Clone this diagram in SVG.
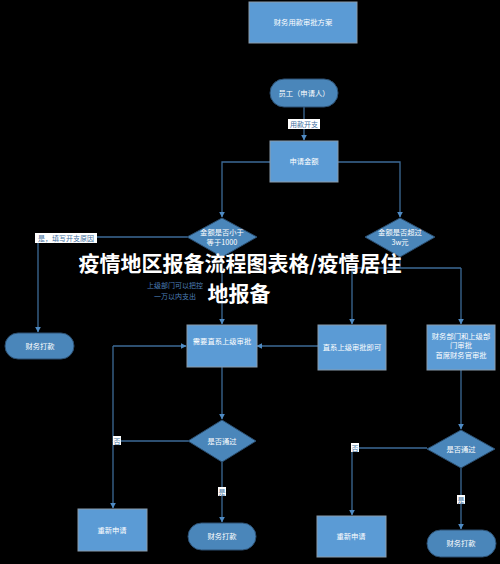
<svg xmlns="http://www.w3.org/2000/svg" width="500" height="564" viewBox="0 0 500 564">
<defs>
<marker id="arr" viewBox="0 0 10 10" refX="9" refY="5" markerWidth="6" markerHeight="6" orient="auto" markerUnits="userSpaceOnUse"><path d="M0,0 L10,5 L0,10 z" fill="#4f8bc4"/></marker>
</defs>
<style>
.box{fill:#5b9bd5;stroke:#8a9bab;stroke-width:1}
.pill{fill:#4a86ba;stroke:#2c4f70;stroke-width:1}
.dia{fill:#4a86ba;stroke:#2c4f70;stroke-width:1}
.t{font-family:"Noto Sans CJK SC","Liberation Sans",sans-serif;font-size:7.3px;fill:#ffffff;text-anchor:middle}
.ln{fill:none;stroke:#3c6a96;stroke-width:1.3}
.lb{fill:#ffffff}
.lt{font-family:"Noto Sans CJK SC","Liberation Sans",sans-serif;font-size:7px;fill:#3f6fa0;text-anchor:middle}
.bt{font-family:"Noto Sans CJK SC","Liberation Sans",sans-serif;font-size:7px;fill:#4d7fb8;text-anchor:middle}
.title{font-family:"Noto Sans CJK SC","Liberation Sans",sans-serif;font-size:21px;font-weight:bold;fill:#ffffff;text-anchor:middle}
</style>
<rect width="500" height="564" fill="#000000"/>
<g id="connectors">
<path class="ln" d="M304,107 V140" marker-end="url(#arr)"/>
<path class="ln" d="M270,162 H222 V217" marker-end="url(#arr)"/>
<path class="ln" d="M338,162 H400 V217" marker-end="url(#arr)"/>
<path class="ln" d="M187,237 H38 V332" marker-end="url(#arr)"/>
<path class="ln" d="M222,257 V324" marker-end="url(#arr)"/>
<path class="ln" d="M400,257 V268"/>
<path class="ln" d="M352,268 H461"/>
<path class="ln" d="M352,268 V324" marker-end="url(#arr)"/>
<path class="ln" d="M461,268 V324" marker-end="url(#arr)"/>
<path class="ln" d="M318,346 H257" marker-end="url(#arr)"/>
<path class="ln" d="M113,346 H186" marker-end="url(#arr)"/>
<path class="ln" d="M222,367 V419" marker-end="url(#arr)"/>
<path class="ln" d="M188,441 H113 V346"/>
<path class="ln" d="M113,441 V508" marker-end="url(#arr)"/>
<path class="ln" d="M222,462 V522" marker-end="url(#arr)"/>
<path class="ln" d="M461,370 V429" marker-end="url(#arr)"/>
<path class="ln" d="M427,448 H352 V515" marker-end="url(#arr)"/>
<path class="ln" d="M461,468 V529" marker-end="url(#arr)"/>
<rect class="lb" x="288" y="119" width="32" height="10"/>
<text class="lt" x="304" y="127">用款开支</text>
<rect class="lb" x="35" y="233" width="62" height="10"/>
<text class="lt" x="66" y="241">是，填写开支原因</text>
<text class="bt" x="175" y="288">上级部门可以把控</text>
<text class="bt" x="175" y="299">一万以内支出</text>
<rect class="lb" x="113" y="436" width="8" height="9"/>
<text class="lt" x="117" y="443.5">否</text>
<rect class="lb" x="218" y="487" width="8" height="9"/>
<text class="lt" x="222" y="494.5">是</text>
<rect class="lb" x="351" y="443" width="8" height="9"/>
<text class="lt" x="355" y="450.5">否</text>
<rect class="lb" x="457" y="495" width="8" height="9"/>
<text class="lt" x="461" y="502.5">是</text>
</g>
<g id="n-top"><rect class="box" x="249" y="2" width="108" height="41"/><text class="t" x="303" y="25">财务用款审批方案</text></g>
<g id="n-start"><rect class="pill" x="270" y="79" width="68" height="28" rx="14"/><text class="t" x="304" y="95.5">员工（申请人）</text></g>
<g id="n-apply"><rect class="box" x="270" y="141" width="68" height="41"/><text class="t" x="304" y="164">申请金额</text></g>
<g id="n-d1"><polygon class="dia" points="222,218 257,237 222,257 187,237"/><text class="t" x="222" y="235">金额是否小于</text><text class="t" x="222" y="244.5">等于1000</text></g>
<g id="n-d2"><polygon class="dia" points="400,218 435,237 400,257 365,237"/><text class="t" x="400" y="235">金额是否超过</text><text class="t" x="400" y="244.5">3w元</text></g>
<g id="n-pay1"><rect class="pill" x="5" y="333" width="69" height="26" rx="13"/><text class="t" x="40" y="348.5">财务打款</text></g>
<g id="n-b1"><rect class="box" x="187" y="325" width="70" height="42"/><text class="t" x="222" y="344">需要直系上级审批</text></g>
<g id="n-b2"><rect class="box" x="318" y="325" width="68" height="45"/><text class="t" x="352" y="350">直系上级审批即可</text></g>
<g id="n-b3"><rect class="box" x="427" y="325" width="68" height="45"/><text class="t" x="461" y="339">财务部门和上级部</text><text class="t" x="461" y="348">门审批</text><text class="t" x="461" y="358">首席财务官审批</text></g>
<g id="n-d3"><polygon class="dia" points="222,420 256,441 222,462 188,441"/><text class="t" x="222" y="443.5">是否通过</text></g>
<g id="n-d4"><polygon class="dia" points="461,430 495,449 461,468 427,449"/><text class="t" x="461" y="451.5">是否通过</text></g>
<g id="n-re1"><rect class="box" x="78" y="509" width="69" height="42"/><text class="t" x="112" y="532.5">重新申请</text></g>
<g id="n-pay2"><rect class="pill" x="188" y="523" width="68" height="27" rx="13.5"/><text class="t" x="222" y="539">财务打款</text></g>
<g id="n-re2"><rect class="box" x="317" y="516" width="69" height="41"/><text class="t" x="351" y="539">重新申请</text></g>
<g id="n-pay3"><rect class="pill" x="427" y="530" width="69" height="27" rx="13.5"/><text class="t" x="461" y="546">财务打款</text></g>
<text class="title" x="240" y="271">疫情地区报备流程图表格/疫情居住</text>
<text class="title" x="239" y="301">地报备</text>
</svg>
